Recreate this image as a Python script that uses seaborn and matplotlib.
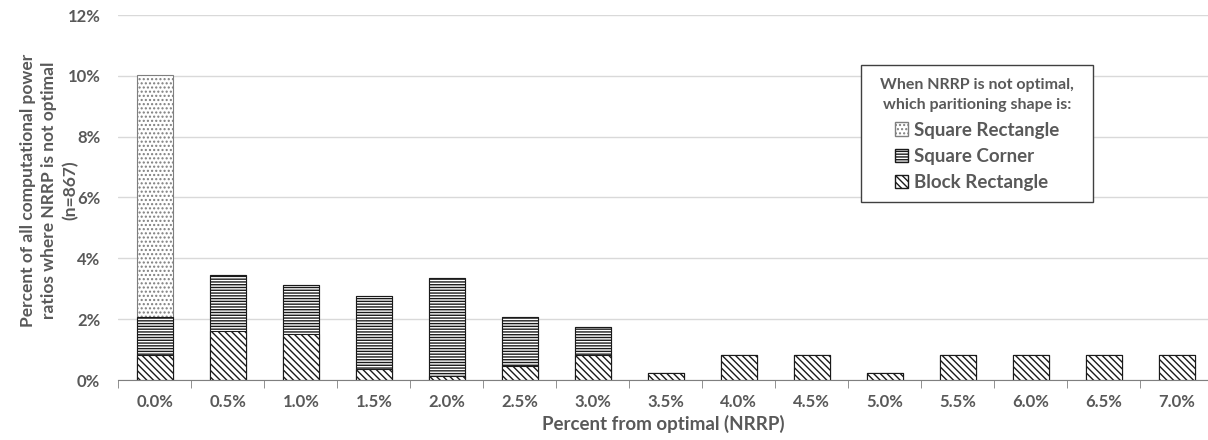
import numpy as np
import pandas as pd
import matplotlib
matplotlib.use("Agg")
import matplotlib.pyplot as plt
from matplotlib.patches import Patch, Rectangle
from matplotlib.ticker import PercentFormatter, FixedLocator
import seaborn as sns

# categories (percent from optimal) and stacked values (% of n=867)
categories = ["0.0%", "0.5%", "1.0%", "1.5%", "2.0%", "2.5%", "3.0%", "3.5%",
              "4.0%", "4.5%", "5.0%", "5.5%", "6.0%", "6.5%", "7.0%"]
block_rect = [0.81, 1.61, 1.50, 0.35, 0.12, 0.46, 0.81, 0.23,
              0.81, 0.81, 0.23, 0.81, 0.81, 0.81, 0.81]
square_corner = [1.27, 1.85, 1.61, 2.42, 3.23, 1.61, 0.92, 0.0,
                 0.0, 0.0, 0.0, 0.0, 0.0, 0.0, 0.0]
square_rect = [7.96, 0.0, 0.0, 0.0, 0.0, 0.0, 0.0, 0.0,
               0.0, 0.0, 0.0, 0.0, 0.0, 0.0, 0.0]
ylabel_lines = ["Percent of all computational power",
                "ratios where NRRP is not optimal",
                "(n=867)"]

df = pd.DataFrame({"cat": categories, "block": block_rect,
                   "corner": square_corner, "square": square_rect})
df["lvl1"] = df["block"]
df["lvl2"] = df["block"] + df["corner"]
df["lvl3"] = df["lvl2"] + df["square"]

sns.set_style("white")
plt.rcParams["font.family"] = ["Lato", "DejaVu Sans"]
plt.rcParams["hatch.linewidth"] = 1.0
grey = "#595959"
W, H = 1208, 440

fig = plt.figure(figsize=(12.08, 4.4), dpi=100)
# plot area runs past the right edge, as in the (cropped) original
ax = fig.add_axes([118.3 / W, 60 / H, 1095 / W, 365 / H])

hatch_sq = "...."
hatch_corner = "------"
hatch_block = "\\\\\\\\\\"

# draw totals back to front so each layer covers the one beneath
layers = [("lvl3", hatch_sq, "#7f7f7f"),
          ("lvl2", hatch_corner, "#1a1a1a"),
          ("lvl1", hatch_block, "#1a1a1a")]
for col, hatch, ec in layers:
    n_before = len(ax.patches)
    sns.barplot(data=df, x="cat", y=col, color="white", width=0.5,
                edgecolor=ec, linewidth=0.8, saturation=1, ax=ax)
    for p in ax.patches[n_before:]:
        if p.get_height() > 0:
            p.set_hatch(hatch)
        else:
            p.set_visible(False)

ax.set_xlim(-0.5, len(categories) - 0.5)
ax.set_ylim(0, 12)
ax.yaxis.set_major_locator(FixedLocator(np.arange(0, 13, 2)))
ax.yaxis.set_major_formatter(PercentFormatter(decimals=0))
ax.grid(axis="y", color="#d9d9d9", linewidth=1)
ax.set_axisbelow(True)
for s in ["top", "right", "left"]:
    ax.spines[s].set_visible(False)
ax.spines["bottom"].set_color("#7f7f7f")

ax.set_xticks(np.arange(len(categories)))
ax.set_xticklabels(categories)
ax.set_xticks(np.arange(-0.5, len(categories), 1), minor=True)
ax.tick_params(axis="x", which="major", length=0, pad=10, labelsize=12,
               labelcolor=grey)
ax.tick_params(axis="x", which="minor", length=6, color="#7f7f7f",
               direction="out", bottom=True)
ax.tick_params(axis="y", length=0, pad=13, labelsize=12, labelcolor=grey)
ax.set_ylabel("")
for t in ax.get_xticklabels() + ax.get_yticklabels():
    t.set_fontweight("bold")

ax.set_xlabel("Percent from optimal (NRRP)", fontsize=13.5, fontweight="bold",
              color=grey)
ax.xaxis.set_label_coords((663 - 118.3) / 1095, -0.097)

# y title as three rotated lines
for xpix, line in zip([28, 49, 70], ylabel_lines):
    fig.text(xpix / W, 1 - 190 / H, line, rotation=90, ha="center",
             va="center", fontsize=12.5, fontweight="bold", color=grey)

# legend box drawn separately so its padding matches the original
fig.patches.append(Rectangle((861 / W, 1 - 202 / H), 232 / W, 137 / H,
                             transform=fig.transFigure, facecolor="white",
                             edgecolor="#404040", linewidth=1, zorder=5))

handles = [Patch(facecolor="white", edgecolor="#7f7f7f", hatch=hatch_sq, label="Square Rectangle"),
           Patch(facecolor="white", edgecolor="#1a1a1a", hatch=hatch_corner, label="Square Corner"),
           Patch(facecolor="white", edgecolor="#1a1a1a", hatch=hatch_block, label="Block Rectangle")]
leg = fig.legend(handles=handles, title="When NRRP is not optimal,\nwhich paritioning shape is:",
                 loc="upper center", bbox_to_anchor=(977 / W, 1 - 72 / H),
                 frameon=False, alignment="center",
                 prop={"size": 13.5, "weight": "bold"}, handlelength=0.7,
                 handleheight=0.7, handletextpad=0.3, labelspacing=0.5,
                 borderpad=0.3, borderaxespad=0)
leg.set_zorder(6)
leg.get_title().set_fontweight("bold")
leg.get_title().set_fontsize(11.5)
leg.get_title().set_color(grey)
leg.get_title().set_multialignment("center")
leg.get_title().set_linespacing(1.6)
for t in leg.get_texts():
    t.set_color(grey)

fig.savefig("out.png", dpi=100)
